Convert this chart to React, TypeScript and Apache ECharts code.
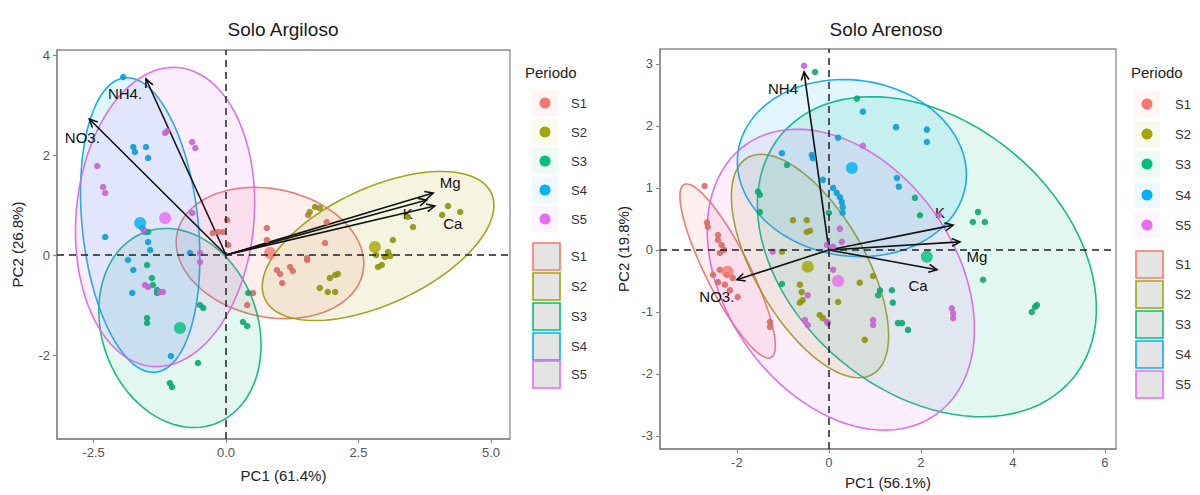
import React, { useEffect, useRef } from "react";
import * as echarts from "echarts";

const groups = ["S1", "S2", "S3", "S4", "S5"];
const colors = ["#F8766D", "#A3A500", "#00BF7D", "#00B0F6", "#E76BF3"];

// ---------- Solo Argiloso ----------
const argS1 = [[0.02,0.7],[-0.25,0.44],[-0.15,0.46],[-0.06,0.46],[0.04,0.2],[0.77,0.54],[0.77,0.3],[1.9,0.66],[1.87,0.24],[1.55,0.8],[1.53,-0.06],[0.96,-0.3],[1.02,-0.38],[1.06,-0.56],[1.21,-0.24],[1.26,-0.32],[1.53,-0.1],[0.51,-0.76],[0.4,-1.0]];
const argS2 = [[1.58,0.86],[1.68,0.96],[1.77,0.94],[3.15,0.3],[3.06,0.06],[3.43,0.76],[3.53,0.56],[4.19,0.98],[4.42,0.86],[4.08,0.8],[2.83,0.0],[3.0,-0.04],[3.1,-0.02],[2.87,-0.24],[2.94,-0.2],[1.96,-0.46],[2.06,-0.4],[2.11,-0.38],[1.77,-0.66],[1.92,-0.74],[2.06,-0.74]];
const argS3 = [[-1.49,-0.2],[-1.4,-0.46],[-1.38,-0.6],[-1.3,-0.7],[-1.3,-0.76],[-0.49,-1.0],[-0.43,-1.06],[-1.49,-1.26],[-1.49,-1.36],[-0.53,-2.16],[-1.06,-2.56],[-1.02,-2.64],[0.32,-1.34],[0.4,-1.42],[0.42,-0.76],[-1.47,0.46]];
const argS4 = [[-1.94,3.56],[-1.75,2.16],[-1.72,2.06],[-1.51,2.16],[-1.47,1.94],[-1.58,0.54],[-1.53,0.46],[-2.28,0.36],[-0.68,0.04],[-1.47,0.26],[-1.43,0.1],[-1.85,-0.1],[-1.75,-0.3],[-1.77,-0.76],[-1.04,-2.02]];
const argS5 = [[-1.15,2.44],[-1.11,2.48],[-0.64,2.26],[-0.58,2.14],[-2.43,1.78],[-2.32,1.36],[-2.28,1.24],[-0.64,0.84],[-0.49,0.04],[-1.53,-0.6],[-1.47,-0.64],[-1.25,-0.74],[-1.19,-0.74],[-0.49,-0.14],[-1.55,0.5]];
const argCentroids = [[0.83,0.04],[2.81,0.16],[-0.87,-1.46],[-1.62,0.64],[-1.15,0.74]];
// ellipse: [cx, cy, ux, uy, vx, vy] (conjugate semi-diameters, data units)
const argEllipses = [
  [0.83,0.04,1.753,-0.395,0.251,1.252],
  [2.87,0.18,2.137,1.058,-0.463,1.051],
  [-0.87,-1.46,0.658,-1.918,1.383,0.534],
  [-1.62,0.6,0.292,-2.944,1.088,0.121],
  [-1.15,0.76,0.247,2.989,-1.673,0.155],
];
const argVars = ["NH4.", "NO3.", "Mg", "K", "Ca"];
const argLoadX = [-1.51, -2.58, 3.91, 3.79, 3.94];
const argLoadY = [3.52, 2.72, 1.24, 1.1, 0.98];
const argLabelOffset = [[-21,14],[-7,18],[17,-11],[-19,13],[18,17]];

// ---------- Solo Arenoso ----------
const areS1 = [[-2.7,1.03],[-2.65,0.44],[-2.63,0.37],[-2.41,0.24],[-2.41,0.16],[-2.33,0.08],[-2.28,0],[-2.37,-0.05],[-2.52,-0.4],[-2.37,-0.32],[-2.22,-0.4],[-2.09,-0.45],[-2.41,-0.52],[-2.26,-0.56],[-1.98,-0.76],[-2.15,-0.65],[-1.28,-1.16],[-1.28,-1.24]];
const areS2 = [[-0.78,0.48],[-0.48,0.48],[-0.48,0.29],[-0.41,0.31],[-1.02,-0.03],[-0.63,-0.56],[-0.59,-0.68],[-0.57,-0.81],[-0.63,-0.85],[-0.2,-1.05],[-0.13,-1.1],[0.67,-0.53],[0.2,-0.84],[0.78,-1.45],[0.96,-0.42]];
const areS3 = [[-0.3,2.87],[0.61,2.44],[-0.91,1.37],[-1.54,0.94],[-1.5,0.89],[-1.5,0.61],[0,0.6],[1.87,0.84],[1.98,0.56],[3.24,0.61],[3.13,0.45],[3.39,0.45],[3.35,-0.48],[4.41,-1.0],[4.48,-0.92],[4.52,-0.89],[1.37,-0.65],[1.39,-0.85],[1.5,-1.18],[1.59,-1.18],[1.72,-1.29],[1.11,-0.65],[1.07,-0.73],[-1.02,-0.55]];
const areS4 = [[0.74,2.23],[0.2,1.81],[-1.02,1.56],[-0.37,1.53],[-0.35,1.48],[-0.13,1.13],[0.09,1.0],[0.17,0.92],[0.24,0.85],[0.28,0.77],[0.3,0.69],[0.3,0.6],[1.46,1.98],[2.13,1.94],[2.13,1.74],[1.48,1.16],[1.52,1.02]];
const areS5 = [[-0.54,2.97],[0.74,1.68],[0.24,0.34],[0.28,0.13],[-1.22,-0.03],[-0.04,0.08],[0.09,0.05],[-0.46,-0.73],[-0.52,-1.13],[-0.46,-1.21],[-0.04,-1.16],[-0.02,-1.18],[0.09,-0.32],[0.96,-1.13],[0.96,-1.21],[2.67,-0.94],[2.7,-1.02],[2.7,-1.1],[2.39,0.56]];
const areCentroids = [[-2.2,-0.35],[-0.46,-0.27],[2.13,-0.11],[0.5,1.32],[0.2,-0.5]];
const areEllipses = [
  [-2.2,-0.34,0.945,-1.395,0.427,0.159],
  [-0.41,-0.26,1.359,-1.746,1.035,0.444],
  [2.13,-0.11,3.164,-1.970,1.887,1.668],
  [0.5,1.32,2.475,-0.258,0.266,1.405],
  [0.26,-0.48,2.059,-2.18,2.048,1.065],
];
const areVars = ["NH4", "NO3.", "K", "Mg", "Ca"];
const areLoadX = [-0.54, -2.0, 2.7, 2.85, 2.35];
const areLoadY = [2.87, -0.48, 0.4, 0.13, -0.32];
const areLabelOffset = [[-21,17],[-20,17],[-13,-13],[17,15],[-19,16]];

const argTicksX = [-2.5, 0, 2.5, 5];
const argTicksY = [-2, 0, 2, 4];
const areTicksX = [-2, 0, 2, 4, 6];
const areTicksY = [-3, -2, -1, 0, 1, 2, 3];

const FONT = "'Liberation Sans', Arial, Helvetica, sans-serif";

function rgba(hex: string, a: number) {
  const n = parseInt(hex.slice(1), 16);
  return `rgba(${(n >> 16) & 255},${(n >> 8) & 255},${n & 255},${a})`;
}
function darken(hex: string, f: number) {
  const n = parseInt(hex.slice(1), 16);
  const m = (c: number) => Math.round(c * (1 - f) + 60 * f);
  return `rgb(${m((n >> 16) & 255)},${m((n >> 8) & 255)},${m(n & 255)})`;
}

export default function App() {
  const ref = useRef<HTMLDivElement>(null);
  useEffect(() => {
    if (!ref.current) return;
    const chart = echarts.init(ref.current, null, { renderer: "svg" });

    const panels = [
      { pts: [argS1, argS2, argS3, argS4, argS5], cen: argCentroids, ell: argEllipses, vars: argVars, lx: argLoadX, ly: argLoadY, off: argLabelOffset },
      { pts: [areS1, areS2, areS3, areS4, areS5], cen: areCentroids, ell: areEllipses, vars: areVars, lx: areLoadX, ly: areLoadY, off: areLabelOffset },
    ];

    const series: any[] = [];
    panels.forEach((p, pi) => {
      p.pts.forEach((d, gi) => {
        series.push({
          type: "scatter", xAxisIndex: pi, yAxisIndex: pi, name: groups[gi],
          data: d, symbolSize: 6.5,
          itemStyle: { color: darken(colors[gi], 0.18), opacity: 0.9 },
          silent: true,
        });
      });
      series.push({
        type: "custom", xAxisIndex: pi, yAxisIndex: pi, silent: true,
        data: p.ell.map((e, gi) => [...e, gi]),
        renderItem: (params: any, api: any) => {
          const cx = api.value(0), cy = api.value(1), ux = api.value(2), uy = api.value(3), vx = api.value(4), vy = api.value(5);
          const gi = api.value(6);
          const pts: number[][] = [];
          for (let k = 0; k <= 100; k++) {
            const t = (k / 100) * Math.PI * 2;
            pts.push(api.coord([cx + ux * Math.cos(t) + vx * Math.sin(t), cy + uy * Math.cos(t) + vy * Math.sin(t)]));
          }
          return {
            type: "polygon", shape: { points: pts },
            style: { fill: rgba(colors[gi], 0.13), stroke: darken(colors[gi], 0.1), lineWidth: 1.6, opacity: 0.9 },
          };
        },
      });
      p.cen.forEach((c, gi) => {
        series.push({
          type: "scatter", xAxisIndex: pi, yAxisIndex: pi, name: groups[gi] + " mean",
          data: [c], symbolSize: 12, itemStyle: { color: colors[gi] }, silent: true,
        });
      });
      const names = p.vars, offs = p.off;
      series.push({
        type: "custom", xAxisIndex: pi, yAxisIndex: pi, silent: true,
        data: p.lx.map((x, i) => [x, p.ly[i]]),
        renderItem: (params: any, api: any) => {
          const idx = params.dataIndex;
          const o = api.coord([0, 0]);
          const t = api.coord([api.value(0), api.value(1)]);
          const ang = Math.atan2(t[1] - o[1], t[0] - o[0]);
          const L = 9, w = Math.PI / 7;
          const p1 = [t[0] - L * Math.cos(ang - w), t[1] - L * Math.sin(ang - w)];
          const p2 = [t[0] - L * Math.cos(ang + w), t[1] - L * Math.sin(ang + w)];
          return {
            type: "group",
            children: [
              { type: "line", shape: { x1: o[0], y1: o[1], x2: t[0], y2: t[1] }, style: { stroke: "#111", lineWidth: 1.6 } },
              { type: "polyline", shape: { points: [p1, t, p2] }, style: { stroke: "#111", lineWidth: 1.6, fill: null } },
              {
                type: "text", x: t[0] + offs[idx][0], y: t[1] + offs[idx][1],
                style: { text: names[idx], fill: "#111", fontSize: 15, fontFamily: FONT, align: "center", verticalAlign: "middle", textAlign: "center", textVerticalAlign: "middle" },
              },
            ],
          };
        },
        markLine: {
          silent: true, symbol: "none", animation: false,
          label: { show: false },
          lineStyle: { color: "#222", type: [7, 5], width: 1.5 },
          data: [{ xAxis: 0 }, { yAxis: 0 }],
        },
      });
    });

    const axisCommon = {
      type: "value",
      splitLine: { show: false },
      axisLine: { show: true, onZero: false, lineStyle: { color: "#8a8a8a", width: 1.5 } },
      axisTick: { show: true, inside: false, length: 4, lineStyle: { color: "#8a8a8a", width: 1.2 } },
      nameLocation: "middle",
      nameTextStyle: { color: "#222", fontSize: 15, fontFamily: FONT },
    };
    const lab = (vals: number[], fix: number) => ({
      color: "#555", fontSize: 13, fontFamily: FONT, margin: 7,
      customValues: vals,
      formatter: (v: number) => (fix ? v.toFixed(fix) : String(Math.round(v))),
    });

    const legendGraphics: any[] = [];
    const legends = [
      { tx: 525, px: 545, textX: 571, rx: 533, pY: [103, 132, 161, 190, 219], rY: [256, 286, 316, 346, 374] },
      { tx: 1131, px: 1147, textX: 1175, rx: 1136, pY: [104, 134, 164, 195, 225], rY: [264, 294, 324, 354, 384] },
    ];
    legends.forEach((L) => {
      legendGraphics.push({ type: "text", x: L.tx, y: 72, style: { text: "Periodo", fill: "#222", fontSize: 15, fontFamily: FONT, textVerticalAlign: "middle", verticalAlign: "middle" } });
      groups.forEach((g, i) => {
        legendGraphics.push({ type: "rect", shape: { x: L.px - 13, y: L.pY[i] - 13, width: 26, height: 26 }, style: { fill: rgba(colors[i], 0.07) } });
        legendGraphics.push({ type: "circle", shape: { cx: L.px, cy: L.pY[i], r: 5.5 }, style: { fill: colors[i] } });
        legendGraphics.push({ type: "text", x: L.textX, y: L.pY[i], style: { text: g, fill: "#333", fontSize: 13, fontFamily: FONT, textVerticalAlign: "middle", verticalAlign: "middle" } });
        legendGraphics.push({ type: "rect", shape: { x: L.rx, y: L.rY[i] - 13, width: 27, height: 27 }, style: { fill: "#e4e4e4", stroke: colors[i], lineWidth: 1.6 } });
        legendGraphics.push({ type: "text", x: L.textX, y: L.rY[i], style: { text: g, fill: "#333", fontSize: 13, fontFamily: FONT, textVerticalAlign: "middle", verticalAlign: "middle" } });
      });
    });

    chart.setOption({
      animation: false,
      grid: [
        { left: 57, top: 50, width: 453, height: 389, show: true, borderColor: "#8a8a8a", borderWidth: 1.3, backgroundColor: "#fff" },
        { left: 660, top: 49, width: 456, height: 400, show: true, borderColor: "#8a8a8a", borderWidth: 1.3, backgroundColor: "#fff" },
      ],
      xAxis: [
        { ...axisCommon, gridIndex: 0, min: -3.19, max: 5.36, name: "PC1 (61.4%)", nameGap: 29, axisLabel: lab(argTicksX, 1), axisTick: { ...axisCommon.axisTick, customValues: argTicksX } },
        { ...axisCommon, gridIndex: 1, min: -3.67, max: 6.24, name: "PC1 (56.1%)", nameGap: 26, axisLabel: lab(areTicksX, 0), axisTick: { ...axisCommon.axisTick, customValues: areTicksX } },
      ],
      yAxis: [
        { ...axisCommon, gridIndex: 0, min: -3.68, max: 4.1, name: "PC2 (26.8%)", nameGap: 32, axisLabel: lab(argTicksY, 0), axisTick: { ...axisCommon.axisTick, customValues: argTicksY } },
        { ...axisCommon, gridIndex: 1, min: -3.21, max: 3.24, name: "PC2 (19.8%)", nameGap: 29, axisLabel: lab(areTicksY, 0), axisTick: { ...axisCommon.axisTick, customValues: areTicksY } },
      ],
      graphic: [
        { type: "text", x: 283, y: 29, style: { text: "Solo Argiloso", fill: "#1a1a1a", fontSize: 19, fontFamily: FONT, textAlign: "center", align: "center", textVerticalAlign: "middle", verticalAlign: "middle" } },
        { type: "text", x: 886, y: 29, style: { text: "Solo Arenoso", fill: "#1a1a1a", fontSize: 19, fontFamily: FONT, textAlign: "center", align: "center", textVerticalAlign: "middle", verticalAlign: "middle" } },
        ...legendGraphics,
      ],
      series,
    });
    return () => chart.dispose();
  }, []);
  return <div ref={ref} style={{ position: "fixed", left: 0, top: 0, width: 1200, height: 495, background: "#fff" }} />;
}
